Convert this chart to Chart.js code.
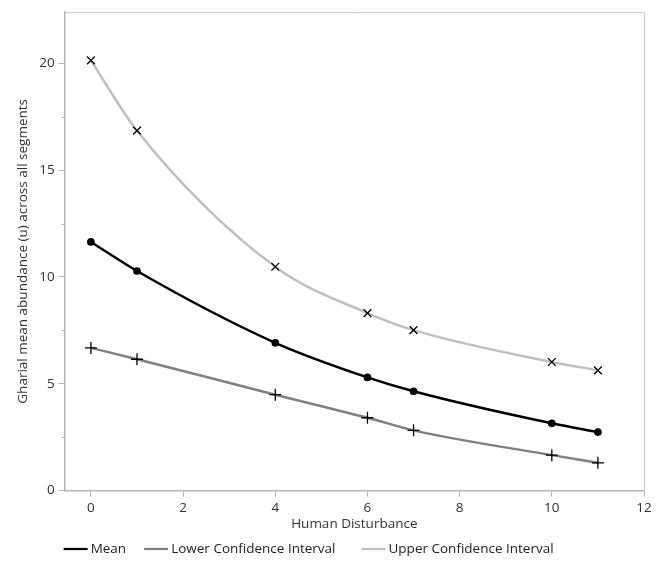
<!DOCTYPE html>
<html lang="en">
<head>
    <meta charset="UTF-8">
    <title>Gharial abundance vs human disturbance</title>
    <script src="https://cdn.jsdelivr.net/npm/chart.js@4.4.1/dist/chart.umd.min.js"></script>
    <style>
        body { margin: 0; background: #fff; }
        #wrap { width: 660px; height: 564px; }
    </style>
</head>
<body>
    <div id="wrap"><canvas id="myChart" width="660" height="564"></canvas></div>

    <script>
        // data
        let disturbance = [0, 1, 4, 6, 7, 10, 11]
        let meanValues  = [11.64, 10.28, 6.92, 5.30, 4.65, 3.15, 2.74]
        let lowerValues = [6.68, 6.15, 4.49, 3.41, 2.82, 1.66, 1.30]
        let upperValues = [20.14, 16.85, 10.48, 8.31, 7.51, 6.02, 5.63]
        let seriesNames = ['Mean', 'Lower Confidence Interval', 'Upper Confidence Interval']
        let xTicks = [0, 2, 4, 6, 8, 10, 12]
        let yTicks = [0, 5, 10, 15, 20]
        let yMinorTicks = [2.5, 7.5, 12.5, 17.5]

        const FONT = '"Open Sans", "Noto Sans", sans-serif'

        function pts(vals) {
            return disturbance.map((x, i) => ({ x: x, y: vals[i] }))
        }

        // frame on top + right of plot area, short minor ticks on y
        const frame = {
            id: 'frame',
            afterDraw(chart) {
                let a = chart.chartArea
                let c = chart.ctx
                let ys = chart.scales.y
                c.save()
                c.strokeStyle = '#c8c8c8'
                c.lineWidth = 1
                c.beginPath()
                c.moveTo(a.left, a.top + 0.5)
                c.lineTo(a.right + 0.5, a.top + 0.5)
                c.lineTo(a.right + 0.5, a.bottom)
                c.stroke()
                c.strokeStyle = '#b5b5b5'
                c.beginPath()
                yMinorTicks.forEach(v => {
                    let py = Math.round(ys.getPixelForValue(v)) + 0.5
                    c.moveTo(a.left - 3, py)
                    c.lineTo(a.left, py)
                })
                c.stroke()
                c.restore()
            }
        }

        // simple line legend under the axis title
        const lineLegend = {
            id: 'lineLegend',
            afterDraw(chart) {
                let c = chart.ctx
                let x = chart.chartArea.left - 1
                let y = chart.height - 15
                c.save()
                c.font = '13.5px ' + FONT
                c.textBaseline = 'middle'
                chart.data.datasets.forEach((ds, i) => {
                    c.strokeStyle = ds.borderColor
                    c.lineWidth = 2.2
                    c.beginPath()
                    c.moveTo(x, y)
                    c.lineTo(x + 24, y)
                    c.stroke()
                    c.fillStyle = '#222'
                    c.fillText(ds.label, x + 27, y)
                    x += 27 + c.measureText(ds.label).width + (i == 0 ? 18 : 26)
                })
                c.restore()
            }
        }

        let ctx = document.getElementById('myChart').getContext('2d')
        let myChart = new Chart(ctx, {
            type: 'line',
            data: {
                datasets: [{
                    label: seriesNames[0],
                    data: pts(meanValues),
                    borderColor: '#000000',
                    borderWidth: 2.5,
                    pointStyle: 'circle',
                    pointRadius: 2.6,
                    pointBorderColor: '#000',
                    pointBackgroundColor: '#000',
                    cubicInterpolationMode: 'monotone'
                }, {
                    label: seriesNames[1],
                    data: pts(lowerValues),
                    borderColor: '#808080',
                    borderWidth: 2.5,
                    pointStyle: 'cross',
                    pointRadius: 6,
                    pointBorderWidth: 1.3,
                    pointBorderColor: '#000',
                    cubicInterpolationMode: 'monotone'
                }, {
                    label: seriesNames[2],
                    data: pts(upperValues),
                    borderColor: '#c0c0c0',
                    borderWidth: 2.5,
                    pointStyle: 'crossRot',
                    pointRadius: 5.5,
                    pointBorderWidth: 1.3,
                    pointBorderColor: '#000',
                    cubicInterpolationMode: 'monotone'
                }]
            },
            options: {
                responsive: false,
                animation: false,
                layout: { padding: { top: 12, right: 16, left: 11, bottom: 32 } },
                plugins: {
                    tooltip: { enabled: false },
                    legend: { display: false }
                },
                scales: {
                    x: {
                        type: 'linear',
                        min: -0.57,
                        max: 12,
                        border: { color: '#b5b5b5', width: 1.5 },
                        grid: { drawOnChartArea: false, tickLength: 6, color: '#b5b5b5' },
                        afterBuildTicks: (s) => { s.ticks = xTicks.map(v => ({ value: v })) },
                        ticks: { color: '#333', font: { family: FONT, size: 13.5 }, padding: 3, maxRotation: 0 },
                        title: { display: true, text: 'Human Disturbance', color: '#333', font: { family: FONT, size: 13.5 }, padding: { top: -3, bottom: 0 } }
                    },
                    y: {
                        min: 0,
                        max: 22.4,
                        border: { color: '#b5b5b5', width: 1.5 },
                        grid: { drawOnChartArea: false, tickLength: 6, color: '#b5b5b5' },
                        afterBuildTicks: (s) => { s.ticks = yTicks.map(v => ({ value: v })) },
                        ticks: { color: '#333', font: { family: FONT, size: 13.5 }, padding: 4 },
                        title: { display: true, text: 'Gharial mean abundance (u) across all segments', color: '#333', font: { family: FONT, size: 13.5 } }
                    }
                }
            },
            plugins: [frame, lineLegend]
        })
    </script>
</body>
</html>
